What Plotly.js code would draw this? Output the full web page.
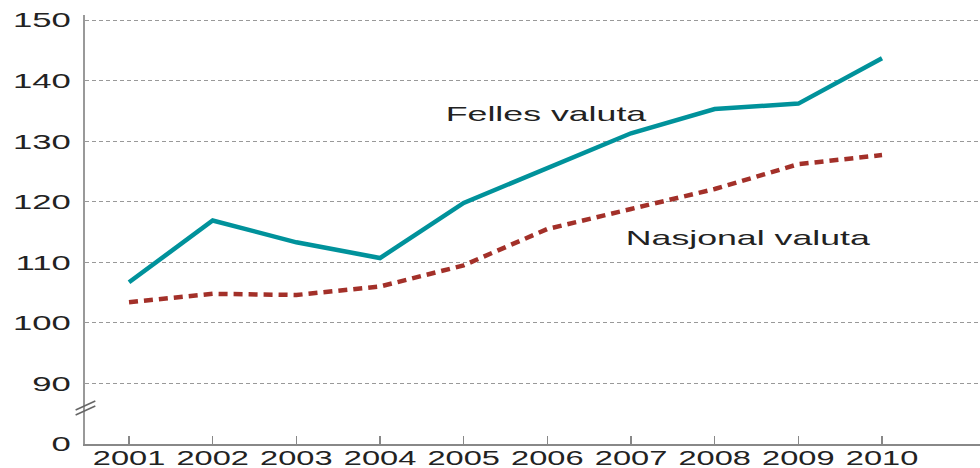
<!DOCTYPE html>
<html>
<head>
<meta charset="utf-8">
<script src="https://cdn.plot.ly/plotly-3.0.1.min.js"></script>
<style>
html,body{margin:0;padding:0;background:#fff;}
#chart{width:980px;height:468px;}
</style>
</head>
<body>
<div id="chart"></div>
<script>
const years = [2001, 2002, 2003, 2004, 2005, 2006, 2007, 2008, 2009, 2010];
const fellesValuta = [106.7, 116.9, 113.3, 110.7, 119.8, 125.5, 131.3, 135.3, 136.2, 143.7];
const nasjonalValuta = [103.4, 104.8, 104.6, 106.0, 109.5, 115.5, 118.8, 122.1, 126.2, 127.7];
const yTickVals = [80, 90, 100, 110, 120, 130, 140, 150];
const yTickText = ['0', '90', '100', '110', '120', '130', '140', '150'];
const seriesNames = ['Felles valuta', 'Nasjonal valuta'];

const tickFont = {family: 'Liberation Sans, Arial, sans-serif', size: 21, color: '#222'};
const xTickFont = {family: 'Liberation Sans, Arial, sans-serif', size: 20, color: '#222'};

const traces = [
  {x: years, y: fellesValuta, name: seriesNames[0], type: 'scatter', mode: 'lines',
   line: {color: '#00929b', width: 4.5}},
  {x: years, y: nasjonalValuta, name: seriesNames[1], type: 'scatter', mode: 'lines',
   line: {color: '#a33029', width: 4.5, dash: '9px,6px'}}
];

const layout = {
  width: 980, height: 468,
  margin: {l: 85, r: 0, t: 15, b: 24},
  paper_bgcolor: '#fff', plot_bgcolor: '#fff',
  showlegend: false,
  xaxis: {
    range: [2000.474, 2011.171], tickvals: years, ticktext: years.map(String),
    showgrid: false, zeroline: false, showline: true, linecolor: '#888', linewidth: 1.5,
    ticks: 'inside', ticklen: 8, tickcolor: '#888', tickwidth: 1.5,
    tickfont: xTickFont, ticklabelstandoff: -5
  },
  yaxis: {
    range: [80, 150.83], tickvals: yTickVals, ticktext: yTickText,
    showgrid: true, gridcolor: '#999', gridwidth: 1, griddash: '4px,3px',
    zeroline: false, showline: true, linecolor: '#999', linewidth: 2,
    ticks: '', tickfont: tickFont, ticklabelstandoff: 8
  },
  annotations: [
    {x: 2005.98, y: 134.5, xref: 'x', yref: 'y', text: seriesNames[0], showarrow: false,
     font: {family: 'Liberation Sans, Arial, sans-serif', size: 21, color: '#222'}},
    {x: 2008.40, y: 114.1, xref: 'x', yref: 'y', text: seriesNames[1], showarrow: false,
     font: {family: 'Liberation Sans, Arial, sans-serif', size: 21, color: '#222'}}
  ],
  shapes: [
    {type: 'line', xref: 'paper', yref: 'paper', x0: -0.0105, y0: 0.0676, x1: 0.0115, y1: 0.0886,
     line: {color: '#666', width: 1.5}},
    {type: 'line', xref: 'paper', yref: 'paper', x0: -0.0105, y0: 0.0793, x1: 0.0115, y1: 0.1003,
     line: {color: '#666', width: 1.5}}
  ]
};

Plotly.newPlot('chart', traces, layout, {staticPlot: true, displayModeBar: false}).then(function (gd) {
  // The reference text is horizontally stretched; widen glyphs to match.
  function stretch(sel, k) {
    gd.querySelectorAll(sel).forEach(function (t) {
      const w = t.getComputedTextLength();
      if (w > 0) {
        t.setAttribute('textLength', (w * k).toFixed(1));
        t.setAttribute('lengthAdjust', 'spacingAndGlyphs');
      }
    });
  }
  stretch('.xtick text', 1.63);
  stretch('.ytick text', 1.65);
  stretch('.annotation-text', 1.7);
});
</script>
</body>
</html>
